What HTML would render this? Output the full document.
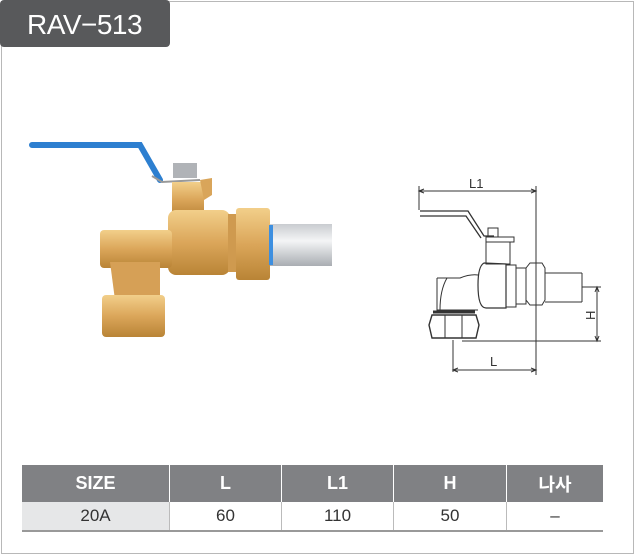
<!DOCTYPE html>
<html><head><meta charset="utf-8"><style>
body{margin:0;background:#fff;width:636px;height:560px;position:relative;overflow:hidden;font-family:"Liberation Sans","Noto Sans CJK KR",sans-serif}
.frame{position:absolute;left:1px;top:1px;width:631px;height:551px;border:1px solid #b8b8b8}
.tag{position:absolute;left:0;top:0;width:143px;height:47px;background:#58595b;border-radius:4px;color:#fff;font-size:28px;line-height:49px;padding-left:27px;letter-spacing:-0.5px}
table{position:absolute;left:22px;top:465px;border-collapse:collapse;width:581px}
td{text-align:center;padding:0}
tr.h td{background:#808184;color:#fff;font-weight:bold;font-size:18px;height:37px;border-left:1px solid #fff}
tr.d td{height:28px;font-size:17px;color:#333;border-left:1px solid #bbb;border-bottom:2px solid #999}
tr td:first-child{border-left:none}
</style></head><body>
<div class="frame"></div>
<div class="tag">RAV−513</div>
<svg width="636" height="560" style="position:absolute;left:0;top:0">
<defs>
<linearGradient id="br" x1="0" y1="0" x2="0" y2="1"><stop offset="0" stop-color="#f2cf8a"/><stop offset=".5" stop-color="#dba65a"/><stop offset="1" stop-color="#b98436"/></linearGradient>
<linearGradient id="pp" x1="0" y1="0" x2="0" y2="1"><stop offset="0" stop-color="#c9ccd0"/><stop offset=".4" stop-color="#f4f5f6"/><stop offset="1" stop-color="#a9adb2"/></linearGradient>
</defs>
<rect x="268" y="224" width="64" height="42" fill="url(#pp)"/>
<path d="M32,145 L140,145 L160,180" stroke="#2d7fd0" stroke-width="6" fill="none" stroke-linecap="round"/>
<path d="M152,176 L162,182 L200,180" stroke="#999" stroke-width="2" fill="none"/>
<rect x="173" y="163" width="24" height="15" fill="#b0b3b7"/>
<rect x="172" y="182" width="32" height="35" fill="url(#br)"/>
<path d="M200,180 L212,178 L212,195 L204,200Z" fill="#d9a55a"/>
<rect x="168" y="210" width="62" height="65" rx="8" fill="url(#br)"/>
<rect x="228" y="214" width="12" height="58" fill="#cf9a4f"/>
<rect x="236" y="208" width="34" height="72" rx="3" fill="url(#br)"/>
<rect x="269" y="225" width="4" height="40" fill="#3d8fe0"/>
<rect x="100" y="230" width="72" height="38" rx="4" fill="url(#br)"/>
<path d="M110,262 L160,262 L160,300 L115,300Z" fill="#d6a056"/>
<rect x="102" y="295" width="63" height="42" rx="4" fill="url(#br)"/>
<g stroke="#333" stroke-width="1" fill="none">
<line x1="419" y1="191" x2="536" y2="191"/>
<path d="M424,189 L419,191 L424,193 M531,189 L536,191 L531,193"/>
<line x1="536" y1="186" x2="536" y2="375"/>
<line x1="419" y1="186" x2="419" y2="210"/>
<path d="M420,211 L468,211 L484,236 L494,236 M420,216 L466,216 L481,238" stroke-width="1.3"/>
<rect x="488" y="228" width="10" height="9"/>
<rect x="486" y="237" width="28" height="5"/>
<rect x="486" y="242" width="24" height="22"/>
<path d="M484,263 Q478,266 478,285 Q478,308 486,308 L506,308 L506,264 Z" stroke-width="1.2"/>
<rect x="506" y="265" width="10" height="42"/>
<rect x="516" y="268" width="10" height="36"/>
<path d="M526,268 L530,263 L542,263 L545,268 L545,300 L542,305 L530,305 L526,300Z"/>
<path d="M545,273 L582,273 M545,302 L582,302 M582,273 L582,302"/>
<path d="M437,278 L460,278 Q470,274 478,275 M437,278 L437,310 L478,310"/>
<path d="M447,278 Q440,290 440,310"/>
<path d="M432,315 L476,315 L479,325 L476,338 L432,338 L429,325Z" stroke-width="1.4"/>
<line x1="433" y1="312" x2="475" y2="312" stroke-width="3"/>
<line x1="445" y1="315" x2="445" y2="338"/><line x1="462" y1="315" x2="462" y2="338"/>
<line x1="453" y1="340" x2="453" y2="372"/>
<line x1="453" y1="370" x2="536" y2="370"/>
<path d="M458,368 L453,370 L458,372 M531,368 L536,370 L531,372"/>
<line x1="582" y1="287" x2="601" y2="287"/>
<line x1="462" y1="341" x2="601" y2="341"/>
<line x1="597" y1="287" x2="597" y2="341"/>
<path d="M595,292 L597,287 L599,292 M595,336 L597,341 L599,336"/>
</g>
<text x="469" y="188" font-size="13" fill="#333" font-family="Liberation Sans">L1</text>
<text x="490" y="366" font-size="13" fill="#333" font-family="Liberation Sans">L</text>
<text x="0" y="0" font-size="13" fill="#333" font-family="Liberation Sans" transform="translate(595,320) rotate(-90)">H</text>
</svg>
<table>
<tr class="h"><td style="width:147px">SIZE</td><td style="width:111px">L</td><td style="width:111px">L1</td><td style="width:112px">H</td><td>나사</td></tr>
<tr class="d"><td style="background:#e6e7e8">20A</td><td>60</td><td>110</td><td>50</td><td>–</td></tr>
</table>
</body></html>
